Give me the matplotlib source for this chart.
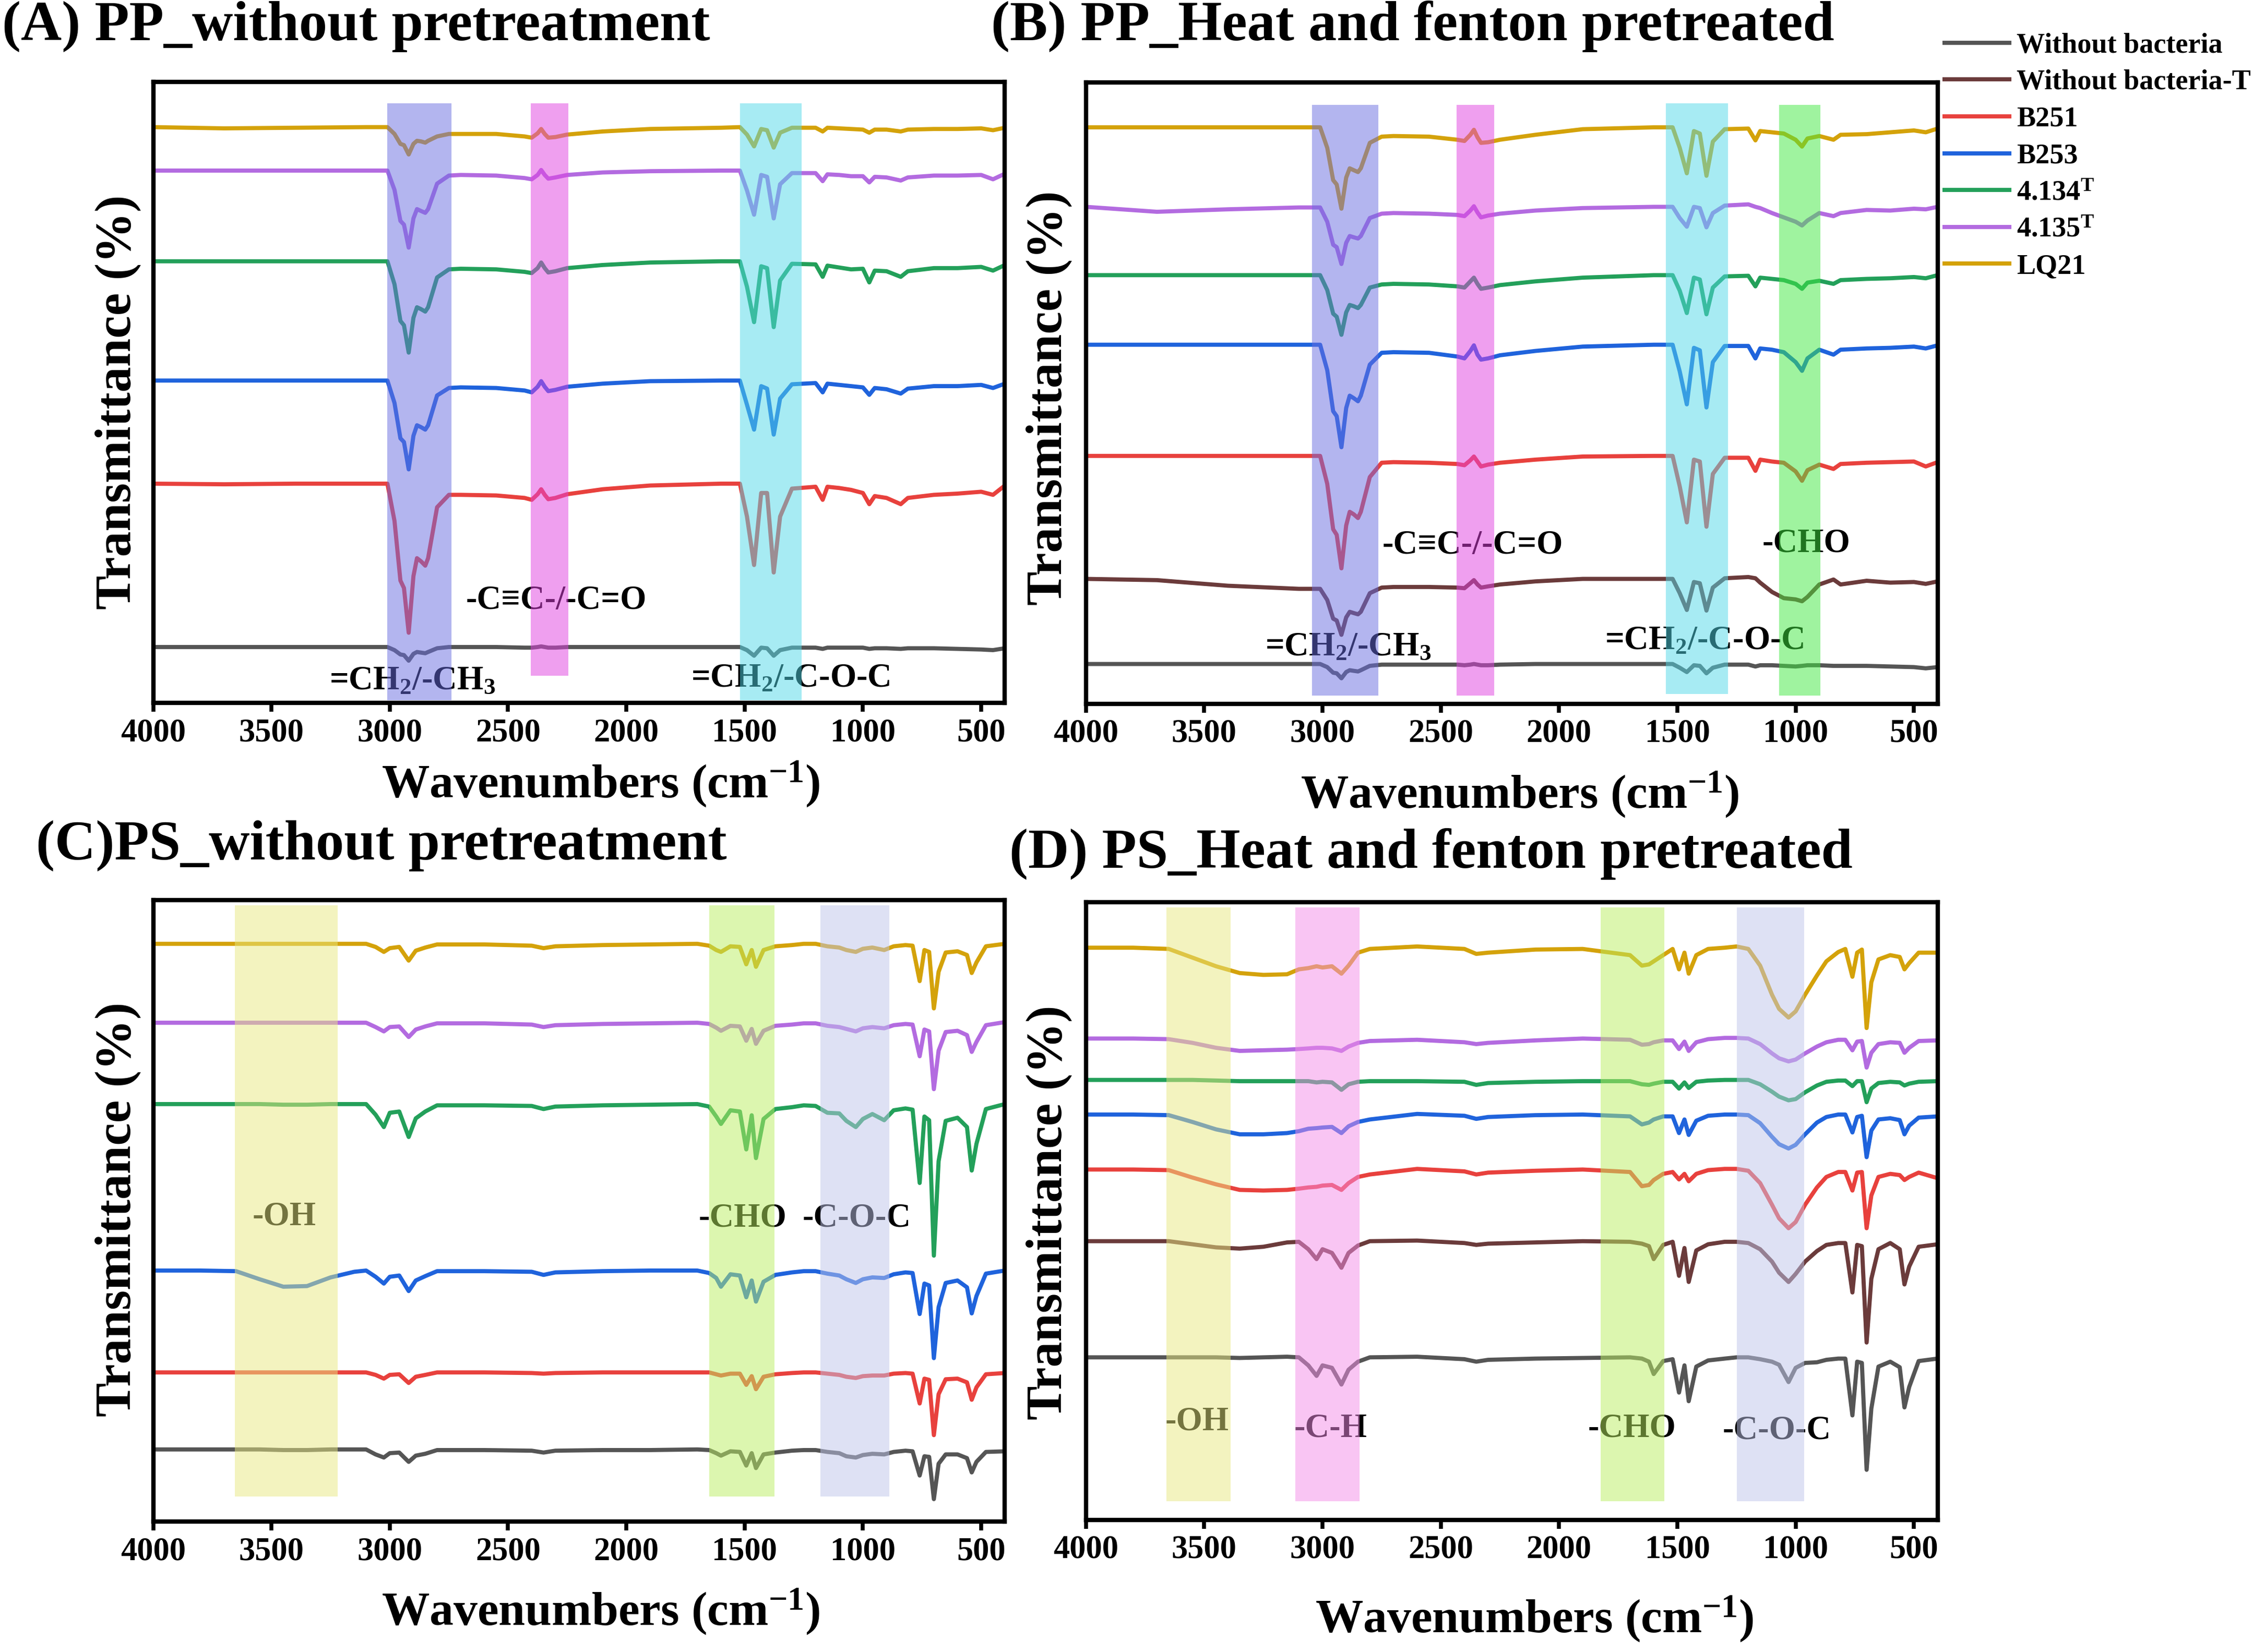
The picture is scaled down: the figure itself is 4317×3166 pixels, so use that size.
import matplotlib
matplotlib.use("Agg")
import matplotlib.pyplot as plt

plt.rcParams['font.family'] = ['Liberation Serif', 'DejaVu Serif']
plt.rcParams['mathtext.fontset'] = 'custom'
plt.rcParams['mathtext.rm'] = 'Liberation Serif'
plt.rcParams['mathtext.it'] = 'Liberation Serif:italic'
plt.rcParams['mathtext.bf'] = 'Liberation Serif:bold'

# ---- series names / colours (legend order) ----
labels = ['Without bacteria', 'Without bacteria-T', 'B251', 'B253',
          r'4.134$^{\mathbf{T}}$', r'4.135$^{\mathbf{T}}$', 'LQ21']
colors = ['#555555', '#6b3b3b', '#e8413d', '#1f63dc', '#23a05a', '#b36be0', '#d4a20a']

# ---- PP spectra (panels A, B): wavenumber grid ----
wn_pp = [4000, 3700, 3400, 3100,
         3010, 2980, 2955, 2940, 2920, 2900, 2885, 2868, 2850, 2838, 2800, 2750,
         2700, 2550, 2430, 2400, 2375, 2360, 2345, 2330, 2300, 2250, 2100, 1900, 1600,
         1520, 1490, 1460, 1430, 1405, 1377, 1350, 1300,
         1200, 1170, 1150, 1100, 1050, 1000, 973, 950, 900, 840, 810, 700, 600, 500, 450, 400]

# panel A (offset transmittance, % of axis height)
a_gray = [9.0, 9.0, 9.0, 9.0,
          9.0, 8.5, 7.8, 7.7, 6.8, 7.9, 8.2, 8.1, 8.0, 8.2, 8.8, 9.0,
          9.0, 9.0, 8.9, 8.9, 9.0, 9.1, 9.0, 8.9, 8.9, 9.0, 9.0, 9.0, 9.0,
          9.0, 8.5, 7.6, 8.9, 8.8, 7.6, 8.5, 8.9,
          8.9, 8.7, 8.9, 8.9, 8.9, 8.9, 8.7, 8.8, 8.8, 8.7, 8.8, 8.8, 8.7, 8.6, 8.5, 8.8]
a_red = [35.3, 35.2, 35.3, 35.3,
         35.3, 29.3, 19.7, 18.5, 11.3, 20.4, 23.3, 22.8, 22.1, 23.3, 31.5, 33.5,
         33.5, 33.4, 33.0, 32.7, 33.6, 34.4, 33.5, 32.8, 33.0, 33.6, 34.4, 35.0, 35.3,
         35.3, 30.0, 22.2, 33.8, 33.8, 21.0, 30.0, 34.5,
         34.8, 32.7, 34.8, 34.6, 34.3, 33.8, 32.0, 33.3, 33.0, 32.0, 33.0, 33.5, 33.7, 34.0, 33.5, 35.0]
a_blue = [51.9, 51.9, 51.9, 51.9,
          51.9, 48.3, 42.6, 42.0, 37.6, 43.0, 44.7, 44.4, 44.0, 44.7, 49.5, 50.7,
          50.8, 50.7, 50.3, 50.0, 50.9, 51.8, 50.9, 50.2, 50.4, 50.9, 51.4, 51.8, 51.9,
          51.9, 48.0, 44.0, 51.0, 50.6, 43.2, 49.0, 51.3,
          51.5, 50.0, 51.4, 51.2, 51.0, 50.8, 49.6, 50.7, 50.5, 49.8, 50.6, 51.0, 51.0, 51.2, 50.7, 51.4]
a_green = [71.1, 71.1, 71.1, 71.1,
           71.1, 67.4, 61.5, 60.8, 56.4, 62.0, 63.7, 63.4, 63.0, 63.7, 68.5, 69.8,
           69.9, 69.8, 69.4, 69.2, 70.0, 70.9, 70.0, 69.3, 69.5, 70.0, 70.5, 70.9, 71.1,
           71.1, 67.0, 61.3, 70.3, 70.0, 60.5, 68.0, 70.7,
           70.6, 68.6, 70.4, 70.1, 69.8, 69.9, 67.7, 69.6, 69.5, 68.6, 69.5, 70.0, 70.0, 70.2, 69.6, 70.5]
a_purple = [85.7, 85.7, 85.7, 85.7,
            85.7, 82.6, 77.6, 77.0, 73.3, 78.0, 79.5, 79.2, 78.9, 79.5, 83.6, 84.9,
            85.0, 84.9, 84.5, 84.3, 85.0, 85.8, 85.0, 84.4, 84.6, 85.0, 85.4, 85.6, 85.7,
            85.7, 82.5, 78.6, 85.0, 84.7, 78.0, 83.5, 85.3,
            85.3, 84.0, 85.1, 85.0, 84.8, 84.8, 83.8, 84.7, 84.6, 84.1, 84.6, 84.9, 84.9, 85.0, 84.3, 85.2]
a_gold = [92.7, 92.5, 92.6, 92.7,
          92.7, 91.6, 90.0, 89.8, 88.3, 90.0, 90.5, 90.4, 90.2, 90.5, 91.2, 91.6,
          91.6, 91.6, 91.2, 91.0, 91.7, 92.4, 91.6, 91.0, 91.1, 91.5, 92.0, 92.4, 92.6,
          92.7, 91.5, 89.6, 92.4, 92.2, 89.4, 91.8, 92.6,
          92.6, 92.0, 92.6, 92.5, 92.4, 92.3, 91.8, 92.3, 92.3, 92.0, 92.3, 92.4, 92.4, 92.5, 92.2, 92.6]

# panel B
b_gray = [6.4, 6.4, 6.4, 6.4,
          6.4, 5.9, 5.0, 4.9, 4.1, 5.1, 5.4, 5.3, 5.2, 5.4, 6.1, 6.3,
          6.3, 6.3, 6.3, 6.2, 6.3, 6.4, 6.3, 6.2, 6.2, 6.3, 6.4, 6.4, 6.4,
          6.4, 5.8, 5.1, 6.2, 6.1, 4.9, 5.8, 6.3,
          6.3, 6.0, 6.2, 6.2, 6.1, 6.0, 6.1, 6.2, 6.2, 6.1, 6.1, 6.1, 6.0, 5.9, 5.7, 5.9]
b_brown = [20.1, 19.9, 19.0, 18.5,
           18.5, 16.7, 13.7, 13.4, 11.1, 13.9, 14.8, 14.6, 14.4, 14.8, 17.8, 18.7,
           18.8, 18.8, 18.7, 18.6, 19.4, 19.9, 19.2, 18.7, 18.9, 19.2, 19.7, 20.1, 20.1,
           20.1, 17.8, 15.1, 19.6, 19.4, 15.0, 18.7, 20.2,
           20.4, 20.2, 19.5, 18.0, 17.0, 16.8, 16.5, 17.2, 19.2, 20.0, 19.2, 19.8, 19.5, 19.6, 19.3, 19.7]
b_red = [39.9, 39.9, 39.9, 39.9,
         39.9, 35.4, 28.1, 27.2, 21.8, 28.7, 30.9, 30.5, 29.9, 30.9, 36.5, 38.8,
         38.9, 38.8, 38.6, 38.4, 39.2, 39.8, 39.0, 38.2, 38.5, 38.8, 39.3, 39.8, 39.9,
         39.9, 35.0, 29.2, 39.3, 39.0, 28.5, 37.0, 39.6,
         39.6, 37.5, 39.3, 39.0, 38.8, 37.4, 35.9, 37.6, 38.5, 37.8, 38.6, 38.8, 38.9, 39.0, 38.2, 38.9]
b_blue = [57.8, 57.8, 57.8, 57.8,
          57.8, 53.7, 47.1, 46.3, 41.3, 47.6, 49.6, 49.2, 48.7, 49.6, 54.6, 56.5,
          56.6, 56.5, 55.9, 55.6, 56.8, 57.7, 56.2, 55.4, 55.6, 56.1, 56.8, 57.5, 57.8,
          57.8, 53.5, 48.2, 57.3, 56.9, 47.7, 55.0, 57.6,
          57.6, 55.6, 57.2, 57.0, 56.6, 55.0, 53.6, 55.6, 57.0, 56.2, 57.0, 57.2, 57.3, 57.5, 57.2, 57.7]
b_green = [69.0, 69.0, 69.0, 69.0,
           69.0, 66.6, 62.8, 62.3, 59.4, 63.0, 64.2, 64.0, 63.7, 64.2, 67.0, 67.5,
           67.6, 67.5, 67.2, 67.0, 68.0, 68.6, 67.6, 66.8, 67.0, 67.4, 68.0, 68.6, 69.0,
           69.0, 66.5, 62.9, 68.6, 68.3, 62.7, 67.0, 68.8,
           68.9, 67.2, 68.6, 68.4, 68.2, 67.6, 66.8, 67.8, 68.1, 67.6, 68.2, 68.4, 68.5, 68.7, 68.5, 69.0]
b_purple = [80.0, 79.2, 79.6, 79.9,
            79.9, 77.6, 73.9, 73.5, 70.8, 74.2, 75.3, 75.1, 74.9, 75.3, 78.2, 78.9,
            79.0, 78.9, 78.7, 78.5, 79.4, 80.1, 79.1, 78.3, 78.6, 78.9, 79.4, 79.8, 80.0,
            80.0, 78.2, 76.8, 80.0, 79.8, 76.7, 79.0, 80.2,
            80.4, 80.0, 79.8, 79.0, 78.3, 77.6, 77.0, 77.8, 79.0, 78.5, 79.0, 79.5, 79.4, 79.7, 79.6, 80.0]
b_gold = [92.8, 92.8, 92.8, 92.8,
          92.8, 89.5, 84.3, 83.6, 79.7, 84.7, 86.2, 85.9, 85.6, 86.2, 90.3, 91.3,
          91.4, 91.3, 90.8, 90.6, 91.6, 92.4, 91.2, 90.3, 90.4, 90.8, 91.6, 92.5, 92.8,
          92.8, 89.5, 85.4, 92.2, 91.8, 85.0, 90.5, 92.5,
          92.6, 90.7, 92.2, 92.0, 91.8, 90.8, 89.7, 91.0, 91.4, 90.8, 91.6, 91.7, 92.0, 92.3, 92.0, 92.6]

# ---- PS spectra (panels C, D) ----
wn_ps = [4000, 3800, 3650, 3550, 3450, 3350, 3250, 3150,
         3100, 3060, 3025, 3000, 2960, 2920, 2890, 2850, 2800,
         2600, 2400, 2350, 2300, 2100, 1900, 1700, 1650, 1620, 1600, 1560,
         1520, 1493, 1470, 1452, 1420, 1370, 1300, 1250,
         1200, 1150, 1100, 1070, 1030, 1000, 960, 910, 870, 820,
         790, 760, 740, 720, 700, 680, 650, 600, 560, 540, 520, 480, 400]

c_gray = [11.6, 11.6, 11.6, 11.6, 11.5, 11.5, 11.6, 11.6,
          11.6, 10.8, 10.3, 11.0, 11.1, 9.6, 10.6, 10.9, 11.5,
          11.5, 11.4, 11.1, 11.4, 11.5, 11.5, 11.6, 11.5, 11.0, 10.6, 11.3,
          11.2, 9.0, 11.0, 8.6, 10.8, 11.1, 11.4, 11.5,
          11.5, 11.2, 11.0, 10.5, 10.3, 10.7, 10.9, 10.8, 11.2, 11.4,
          11.3, 7.4, 10.5, 10.4, 3.6, 9.3, 10.8, 10.8, 10.2, 7.9, 9.6, 11.2, 11.3]
c_red = [24.0, 24.0, 24.0, 24.0, 24.0, 24.0, 24.0, 24.0,
         24.0, 23.6, 23.0, 23.6, 23.7, 22.3, 23.3, 23.6, 24.0,
         24.0, 23.9, 23.8, 23.9, 24.0, 24.0, 24.0, 24.0, 23.7, 23.5, 23.8,
         23.8, 22.0, 23.4, 21.3, 23.3, 23.7, 23.9, 24.0,
         24.0, 23.8, 23.6, 23.3, 23.1, 23.4, 23.5, 23.5, 23.8, 23.9,
         23.8, 19.0, 23.0, 22.8, 13.9, 20.5, 22.9, 23.0, 22.4, 19.6, 21.6, 23.7, 23.9]
c_blue = [40.4, 40.4, 40.3, 39.0, 37.8, 37.9, 39.3, 40.2,
          40.4, 39.4, 38.3, 39.4, 39.6, 37.1, 38.8, 39.5, 40.3,
          40.3, 40.2, 39.7, 40.1, 40.3, 40.4, 40.4, 40.0, 39.2, 37.8, 39.8,
          39.6, 36.1, 38.8, 35.4, 38.6, 39.7, 40.1, 40.3,
          40.3, 39.9, 39.6, 39.0, 38.4, 39.0, 39.3, 39.2, 39.8, 40.1,
          40.0, 33.4, 38.3, 38.0, 26.3, 34.5, 38.4, 38.8, 37.7, 33.5, 36.3, 39.9, 40.4]
c_green = [67.2, 67.2, 67.2, 67.2, 67.1, 67.1, 67.2, 67.2,
           67.2, 65.5, 63.5, 65.8, 66.0, 61.9, 64.9, 66.0, 67.0,
           67.0, 66.9, 66.4, 66.8, 67.0, 67.1, 67.2, 66.8, 65.2, 64.0, 66.2,
           66.0, 59.9, 65.4, 58.5, 64.8, 66.4, 66.7, 67.0,
           66.9, 65.8, 65.7, 64.5, 63.5, 64.8, 65.6, 64.6, 66.2, 66.5,
           66.3, 54.5, 65.2, 64.6, 42.8, 58.0, 64.5, 65.0, 63.5, 56.5, 60.8, 66.4, 67.2]
c_purple = [80.3, 80.3, 80.3, 80.3, 80.3, 80.3, 80.3, 80.3,
            80.3, 79.6, 78.9, 79.6, 79.7, 78.0, 79.2, 79.7, 80.2,
            80.2, 80.0, 79.6, 79.9, 80.1, 80.2, 80.3, 80.1, 79.5, 79.0, 79.8,
            79.7, 77.4, 79.3, 76.9, 79.0, 79.8, 80.0, 80.2,
            80.2, 79.8, 79.6, 79.3, 78.9, 79.4, 79.6, 79.4, 79.9, 80.1,
            80.0, 74.9, 79.2, 78.9, 69.6, 75.8, 78.8, 79.0, 78.3, 75.6, 77.2, 79.9, 80.4]
c_gold = [93.0, 93.0, 93.0, 93.0, 93.0, 93.0, 93.0, 93.0,
          93.0, 92.5, 91.7, 92.3, 92.5, 90.3, 91.9, 92.4, 92.9,
          92.9, 92.7, 92.3, 92.6, 92.8, 92.9, 93.0, 92.7, 92.0, 91.7, 92.6,
          92.5, 89.7, 92.0, 89.3, 92.0, 92.6, 92.8, 93.0,
          93.0, 92.6, 92.4, 92.0, 91.7, 92.2, 92.4, 92.0, 92.6, 92.8,
          92.7, 87.0, 92.0, 91.7, 82.6, 88.5, 91.6, 91.8, 91.2, 88.3, 90.0, 92.6, 93.0]

d_gray = [26.3, 26.3, 26.3, 26.3, 26.3, 26.2, 26.3, 26.4,
          26.3, 25.0, 23.3, 25.0, 24.6, 21.9, 24.3, 25.6, 26.3,
          26.4, 26.0, 25.6, 25.9, 26.1, 26.2, 26.3, 26.1, 25.6, 23.6, 25.7,
          26.0, 20.6, 25.0, 19.2, 24.8, 25.8, 26.1, 26.3,
          26.3, 26.0, 25.6, 25.1, 22.3, 24.6, 25.4, 25.5, 25.9, 26.1,
          26.1, 16.9, 25.6, 25.4, 8.1, 18.0, 24.8, 25.6, 24.7, 18.2, 21.5, 25.7, 26.1]
d_brown = [45.1, 45.1, 45.1, 44.6, 44.1, 43.9, 44.2, 44.9,
           45.0, 43.8, 42.2, 43.8, 43.2, 40.8, 43.2, 44.4, 45.1,
           45.2, 44.8, 44.5, 44.7, 44.9, 45.1, 45.0, 44.7, 44.3, 42.2, 44.5,
           45.0, 39.5, 44.0, 38.5, 43.6, 44.6, 45.0, 45.0,
           44.8, 43.8, 41.8, 40.0, 38.5, 39.8, 41.8, 43.5, 44.5, 44.8,
           44.8, 36.8, 44.5, 44.3, 28.7, 39.0, 43.8, 44.8, 43.8, 38.1, 41.0, 44.2, 44.6]
d_red = [56.7, 56.7, 56.6, 55.4, 54.3, 53.4, 53.3, 53.4,
         53.6, 53.8, 53.9, 54.1, 54.2, 53.4, 54.5, 55.5, 55.9,
         56.8, 56.4, 55.9, 56.2, 56.5, 56.7, 56.3, 54.0, 54.2, 55.0, 56.0,
         56.3, 55.1, 56.0, 54.8, 56.0, 56.6, 56.8, 56.8,
         56.5, 54.5, 51.0, 48.8, 47.2, 48.2, 51.0, 53.8, 55.5, 56.3,
         56.3, 53.3, 56.2, 56.3, 47.2, 52.5, 55.5, 56.0, 55.8, 55.0, 55.5, 56.2, 55.3]
d_blue = [65.6, 65.6, 65.5, 64.4, 63.2, 62.4, 62.4, 62.6,
          62.9, 63.3, 63.4, 63.5, 63.6, 62.6, 63.7, 64.4, 64.8,
          65.7, 65.4, 64.9, 65.2, 65.5, 65.6, 65.3, 64.0, 64.3, 64.8, 65.3,
          65.3, 62.6, 64.8, 62.3, 64.6, 65.4, 65.6, 65.6,
          65.5, 64.2, 62.0, 60.8, 60.1, 60.7, 62.4, 64.3, 65.2, 65.6,
          65.6, 62.7, 65.2, 65.4, 58.7, 63.0, 64.8, 65.0, 64.7, 62.4, 63.8, 65.1, 65.3]
d_green = [71.2, 71.2, 71.2, 71.2, 71.1, 71.0, 71.0, 71.0,
           71.0, 71.0, 70.8, 70.9, 70.8, 69.6, 70.5, 70.9, 71.0,
           71.0, 70.9, 70.4, 70.7, 70.9, 71.0, 71.0, 70.5, 70.4, 70.6, 70.9,
           70.9, 69.8, 70.8, 69.9, 70.9, 71.1, 71.2, 71.2,
           71.2, 70.5, 69.3, 68.5, 67.9, 68.1, 69.2, 70.3, 70.9, 71.1,
           71.1, 70.2, 71.0, 71.0, 67.6, 69.8, 70.7, 70.9, 70.8, 70.3, 70.6, 70.9, 71.0]
d_purple = [77.9, 77.9, 77.8, 77.2, 76.4, 75.9, 76.0, 76.1,
            76.2, 76.3, 76.4, 76.4, 76.3, 75.9, 76.6, 77.2, 77.5,
            77.7, 77.3, 77.0, 77.2, 77.6, 77.9, 77.7, 76.9, 77.0, 77.3, 77.6,
            77.6, 76.2, 77.4, 75.9, 77.3, 77.8, 78.0, 78.0,
            77.9, 77.0, 75.5, 74.7, 74.2, 74.5, 75.5, 76.6, 77.3, 77.7,
            77.7, 76.0, 77.4, 77.5, 73.2, 75.6, 77.0, 77.3, 77.2, 75.6, 76.4, 77.5, 77.6]
d_gold = [92.6, 92.6, 92.4, 91.0, 89.6, 88.5, 88.2, 88.3,
          89.1, 89.3, 89.6, 89.4, 89.6, 88.4, 89.7, 91.8, 92.4,
          92.8, 92.4, 91.6, 91.8, 92.3, 92.4, 91.4, 89.7, 89.9, 90.4, 91.4,
          92.4, 89.1, 91.8, 88.4, 91.4, 92.4, 92.6, 92.8,
          92.4, 89.7, 85.0, 82.7, 81.3, 82.3, 85.0, 88.1, 90.4, 91.9,
          92.4, 87.9, 91.8, 92.3, 79.6, 87.0, 90.7, 91.4, 91.1, 89.1, 90.1, 91.8, 91.8]

# ---- shaded bands: (wn_hi, wn_lo, ymin, ymax, colour) ----
bands_a = [(3010, 2740, 0.004, 0.965, '#696de1'), (2405, 2245, 0.044, 0.965, '#e141e1'),
           (1520, 1260, 0.004, 0.965, '#51d9e9')]
bands_b = [(3045, 2765, 0.013, 0.964, '#696de1'), (2433, 2275, 0.013, 0.964, '#e141e1'),
           (1548, 1285, 0.016, 0.967, '#51d9e9'), (1069, 895, 0.013, 0.964, '#41e941')]
bands_c = [(3654, 3220, 0.04, 0.992, '#e9e981'), (1649, 1373, 0.04, 0.992, '#bbef61'),
           (1180, 889, 0.04, 0.992, '#bfc5eb')]
bands_d = [(3659, 3389, 0.03, 0.991, '#e9e981'), (3115, 2844, 0.03, 0.991, '#f58de9'),
           (1825, 1555, 0.03, 0.991, '#bbef61'), (1248, 964, 0.03, 0.991, '#bfc5eb')]

# ---- band annotations (wn, y, text) ----
notes_a = [(2905, 3.5, r'=CH$_\mathbf{2}$/-CH$_\mathbf{3}$'), (2296, 16.5, '-C≡C-/-C=O'),
           (1306, 4.0, r'=CH$_\mathbf{2}$/-C-O-C')]
notes_b = [(2892, 9.1, r'=CH$_\mathbf{2}$/-CH$_\mathbf{3}$'), (2366, 25.5, '-C≡C-/-C=O'),
           (1385, 10.1, r'=CH$_\mathbf{2}$/-C-O-C'), (955, 25.8, '-CHO')]
notes_c = [(3447, 49.1, '-OH'), (1509, 48.8, '-CHO'), (1027, 48.8, '-C-O-C')]
notes_d = [(3531, 15.9, '-OH'), (2966, 14.8, '-C-H'), (1692, 14.8, '-CHO'),
           (1079, 14.5, '-C-O-C')]

fig = plt.figure(figsize=(4317 / 300, 3166 / 300), dpi=300)

panels = [
    ([0.068, 0.5745, 0.378, 0.376], wn_pp,
     [(a_gray, 0), (a_red, 2), (a_blue, 3), (a_green, 4), (a_purple, 5), (a_gold, 6)],
     bands_a, notes_a),
    ([0.482, 0.5740, 0.378, 0.376], wn_pp,
     [(b_gray, 0), (b_brown, 1), (b_red, 2), (b_blue, 3), (b_green, 4), (b_purple, 5), (b_gold, 6)],
     bands_b, notes_b),
    ([0.068, 0.0790, 0.378, 0.376], wn_ps,
     [(c_gray, 0), (c_red, 2), (c_blue, 3), (c_green, 4), (c_purple, 5), (c_gold, 6)],
     bands_c, notes_c),
    ([0.482, 0.0800, 0.378, 0.374], wn_ps,
     [(d_gray, 0), (d_brown, 1), (d_red, 2), (d_blue, 3), (d_green, 4), (d_purple, 5), (d_gold, 6)],
     bands_d, notes_d),
]

axes = []
for rect, wn, series, bands, notes in panels:
    ax = fig.add_axes(rect)
    for ys, k in series:
        ax.plot(wn, ys, color=colors[k], lw=1.9, label=labels[k], zorder=2,
                solid_joinstyle='round')
    for hi, lo, y0, y1, c in bands:
        ax.axvspan(lo, hi, ymin=y0, ymax=y1, color=c, alpha=0.5, lw=0, zorder=4)
    for x, y, t in notes:
        ax.text(x, y, t, ha='center', va='center', fontsize=15.5, fontweight='bold', zorder=3)
    ax.set_xlim(4000, 400)
    ax.set_ylim(0, 100)
    ax.set_xticks([4000, 3500, 3000, 2500, 2000, 1500, 1000, 500])
    ax.set_yticks([])
    ax.tick_params(axis='x', direction='out', length=4, width=1.8, pad=3, labelsize=15)
    for lab in ax.get_xticklabels():
        lab.set_fontweight('bold')
    for sp in ax.spines.values():
        sp.set_linewidth(2)
    axes.append(ax)

# titles
fig.text(0.001, 0.984, '(A) PP_without pretreatment', fontsize=26, fontweight='bold', va='center')
fig.text(0.440, 0.984, '(B) PP_Heat and fenton pretreated', fontsize=26, fontweight='bold', va='center')
fig.text(0.016, 0.488, '(C)PS_without pretreatment', fontsize=26, fontweight='bold', va='center')
fig.text(0.448, 0.483, '(D) PS_Heat and fenton pretreated', fontsize=26, fontweight='bold', va='center')

# axis labels
xlab = r'Wavenumbers (cm$^{\mathbf{-1}}$)'
for x, y in [(0.2666, 0.5252), (0.6747, 0.519), (0.2666, 0.0243), (0.681, 0.020)]:
    fig.text(x, y, xlab, fontsize=22, fontweight='bold', ha='center', va='center')
for x, y in [(0.0523, 0.7565), (0.4656, 0.759), (0.0523, 0.268), (0.4656, 0.266)]:
    fig.text(x, y, 'Transmittance (%)', fontsize=23.5, fontweight='bold',
             rotation=90, ha='center', va='center')

# legend taken from panel B (all seven series)
h, l = axes[1].get_legend_handles_labels()
fig.legend(h, l, loc='upper left', bbox_to_anchor=(0.858, 0.987), frameon=False,
           prop={'weight': 'bold', 'size': 13}, handlelength=2.3,
           handletextpad=0.25, labelspacing=0.38, borderaxespad=0)

fig.savefig('out.png', dpi=300)
